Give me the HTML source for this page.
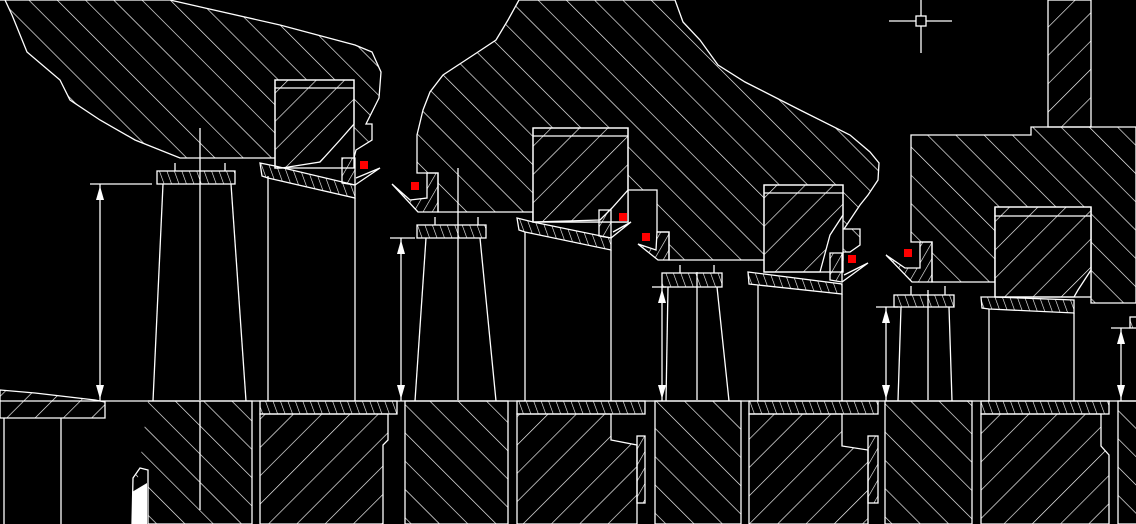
<!DOCTYPE html>
<html><head><meta charset="utf-8"><style>html,body{margin:0;padding:0;background:#000;}svg{display:block}</style></head><body>
<svg width="1136" height="524" viewBox="0 0 1136 524" xmlns="http://www.w3.org/2000/svg">
<defs>
<pattern id="bs" width="20" height="20" patternUnits="userSpaceOnUse" patternTransform="rotate(-45)"><line x1="0" y1="0" x2="0" y2="20" stroke="#fff" stroke-width="1.3"/></pattern>
<pattern id="fs" width="20" height="20" patternUnits="userSpaceOnUse" patternTransform="rotate(45)"><line x1="0" y1="0" x2="0" y2="20" stroke="#fff" stroke-width="1.3"/></pattern>
<pattern id="fine" width="7" height="7" patternUnits="userSpaceOnUse" patternTransform="rotate(-20)"><line x1="0" y1="0" x2="0" y2="7" stroke="#fff" stroke-width="1.2"/></pattern>
<pattern id="fine2" width="8" height="8" patternUnits="userSpaceOnUse" patternTransform="rotate(30)"><line x1="0" y1="0" x2="0" y2="8" stroke="#fff" stroke-width="1.2"/></pattern>
</defs>
<rect width="1136" height="524" fill="#000"/>
<g stroke="#fff" stroke-width="1.3" fill="none">
<!-- Blob 1 -->
<path d="M0,0 L170,0 L205,8 L280,25 L355,45 L372,52 L381,72 L379,98 L366,124 L372,124 L372,140 L356,150 L354,158 L275,158 L180,158 L135,140 L100,120 L70,100 L60,80 L27,52 L12,15 L5,0 Z" fill="url(#bs)"/>
<rect x="275" y="80" width="79" height="88" fill="#000"/>
<path d="M275,80 H354 V124 L340,140 L320,162 L282,168 H275 Z" fill="url(#fs)"/>
<line x1="275" y1="88" x2="354" y2="88"/>
<!-- Blob 2 -->
<path d="M519,0 L675,0 L683,22 L700,40 L718,65 L745,82 L800,110 L850,135 L870,152 L879,163 L878,180 L868,195 L860,205 L850,220 L844,229 L860,229 L860,245 L850,252 L843,252 L843,260 L669,260 L669,232 L657,232 L657,190 L628,190 L628,222 L533,222 L533,212 L438,212 L438,173 L417,173 L417,135 L423,110 L430,92 L443,75 L478,52 L496,40 L508,20 Z" fill="url(#bs)"/>
<rect x="533" y="128" width="95" height="94" fill="#000"/>
<path d="M533,128 H628 V190 L612,208 L600,220 L533,222 Z" fill="url(#fs)"/>
<line x1="533" y1="136" x2="628" y2="136"/>
<rect x="764" y="185" width="79" height="87" fill="#000"/>
<path d="M764,185 H843 V215 L830,235 L820,272 H764 Z" fill="url(#fs)"/>
<line x1="764" y1="193" x2="843" y2="193"/>
<!-- Blob 3 -->
<path d="M911,135 L1031,135 L1031,127 L1136,127 L1136,303 L1091,303 L1091,208 L995,208 L995,282 L932,282 L932,242 L911,242 Z" fill="url(#bs)"/>
<rect x="995" y="207" width="96" height="90" fill="#000"/>
<path d="M995,207 H1091 V270 L1078,290 L1074,297 H995 Z" fill="url(#fs)"/>
<line x1="995" y1="216" x2="1091" y2="216"/>
<rect x="1048" y="0" width="43" height="127" fill="url(#fs)"/>
<!-- crosshair -->
<line x1="889" y1="21" x2="952" y2="21"/><line x1="921" y1="0" x2="921" y2="53"/>
<rect x="916" y="16" width="10" height="10" fill="#000"/>
<!-- seal lips -->
<path d="M260,163 L275,166 L355,185 L355,198 L268,178 L262,176 Z" fill="url(#fine)"/>
<path d="M342,158 L355,158 L355,185 L342,183 Z" fill="url(#fine2)"/>
<path d="M355,185 L380,168 L356,178"/>
<path d="M517,218 L533,222 L611,238 L611,250 L525,232 L519,230 Z" fill="url(#fine)"/>
<path d="M599,210 L611,210 L611,238 L599,236 Z" fill="url(#fine2)"/>
<path d="M611,238 L631,222 L613,232"/>
<path d="M748,272 L764,274 L842,284 L842,294 L758,285 L749,284 Z" fill="url(#fine)"/>
<path d="M830,253 L842,253 L842,282 L830,280 Z" fill="url(#fine2)"/>
<path d="M842,282 L868,263 L844,275"/>
<path d="M981,297 L995,297 L1074,300 L1074,313 L989,309 L982,308 Z" fill="url(#fine)"/>
<!-- left lips -->
<path d="M427,173 L438,173 L438,212 L418,212 L392,184 L410,200 L427,198 Z" fill="url(#fine2)"/>
<path d="M657,232 L669,232 L669,260 L658,260 L638,244 L656,250 Z" fill="url(#fine2)"/>
<path d="M920,242 L932,242 L932,282 L912,282 L886,255 L905,268 L920,268 Z" fill="url(#fine2)"/>
<!-- thin top strips -->
<rect x="157" y="171" width="78" height="13" fill="url(#fine)"/>
<rect x="417" y="225" width="69" height="13" fill="url(#fine)"/>
<rect x="662" y="273" width="60" height="14" fill="url(#fine)"/>
<rect x="894" y="295" width="60" height="12" fill="url(#fine)"/>
<rect x="1130" y="317" width="8" height="11" fill="url(#fine)"/>
<line x1="175" y1="163" x2="175" y2="171"/><line x1="225" y1="163" x2="225" y2="171"/>
<line x1="435" y1="217" x2="435" y2="225"/><line x1="478" y1="217" x2="478" y2="225"/>
<line x1="680" y1="265" x2="680" y2="273"/><line x1="714" y1="265" x2="714" y2="273"/>
<line x1="911" y1="286" x2="911" y2="295"/><line x1="945" y1="286" x2="945" y2="295"/>
<!-- posts -->
<line x1="163" y1="184" x2="153" y2="401"/><line x1="231" y1="184" x2="246" y2="401"/>
<line x1="200" y1="128" x2="200" y2="400"/>
<line x1="426" y1="238" x2="415" y2="401"/><line x1="480" y1="238" x2="496" y2="401"/>
<line x1="458" y1="168" x2="458" y2="400"/>
<line x1="668" y1="287" x2="666" y2="401"/><line x1="717" y1="287" x2="729" y2="401"/>
<line x1="697" y1="272" x2="697" y2="400"/>
<line x1="901" y1="307" x2="898" y2="401"/><line x1="949" y1="307" x2="952" y2="401"/>
<line x1="928" y1="290" x2="928" y2="400"/>
<line x1="268" y1="176" x2="268" y2="401"/><line x1="355" y1="198" x2="355" y2="401"/>
<line x1="525" y1="232" x2="525" y2="401"/><line x1="611" y1="250" x2="611" y2="401"/>
<line x1="758" y1="285" x2="758" y2="401"/><line x1="842" y1="294" x2="842" y2="401"/>
<line x1="989" y1="309" x2="989" y2="401"/><line x1="1074" y1="313" x2="1074" y2="401"/>
<!-- dimensions -->
<line x1="90" y1="184" x2="152" y2="184"/><line x1="100" y1="184" x2="100" y2="401"/>
<line x1="390" y1="238" x2="415" y2="238"/><line x1="401" y1="238" x2="401" y2="401"/>
<line x1="652" y1="287" x2="666" y2="287"/><line x1="662" y1="287" x2="662" y2="401"/>
<line x1="876" y1="307" x2="898" y2="307"/><line x1="886" y1="307" x2="886" y2="401"/>
<line x1="1111" y1="328" x2="1130" y2="328"/><line x1="1121" y1="328" x2="1121" y2="401"/>
<!-- bottom -->
<line x1="0" y1="401" x2="1136" y2="401"/>
<path d="M0,390 L35,393 L95,400 L105,402 L105,418 L0,418 Z" fill="url(#fs)"/>
<line x1="4" y1="418" x2="4" y2="524"/><line x1="61" y1="418" x2="61" y2="524"/>
<path d="M148,401 H252 V524 H148 V470 L140,468 L133,478 L132,524" fill="url(#bs)"/>
<rect x="260" y="401" width="137" height="13" fill="url(#fine)"/>
<path d="M260,414 H388 V440 L383,445 V524 H260 Z" fill="url(#fs)"/>
<line x1="200" y1="401" x2="200" y2="510"/>
<rect x="405" y="401" width="103" height="123" fill="url(#bs)"/>
<rect x="517" y="401" width="128" height="13" fill="url(#fine)"/>
<path d="M517,414 H611 V440 L637,445 V524 H517 Z" fill="url(#fs)"/>
<rect x="637" y="436" width="8" height="67" fill="url(#fine2)"/>
<rect x="655" y="401" width="86" height="123" fill="url(#bs)"/>
<rect x="749" y="401" width="129" height="13" fill="url(#fine)"/>
<path d="M749,414 H842 V446 L868,450 V524 H749 Z" fill="url(#fs)"/>
<rect x="868" y="436" width="10" height="67" fill="url(#fine2)"/>
<rect x="885" y="401" width="87" height="123" fill="url(#bs)"/>
<rect x="981" y="401" width="128" height="13" fill="url(#fine)"/>
<path d="M981,414 H1101 V446 L1109,455 V524 H981 Z" fill="url(#fs)"/>
<rect x="1118" y="401" width="30" height="123" fill="url(#bs)"/>
</g>
<g fill="#fff">
<polygon points="100,186 96,200 104,200"/><polygon points="100,399 96,385 104,385"/>
<polygon points="401,240 397,254 405,254"/><polygon points="401,399 397,385 405,385"/>
<polygon points="662,289 658,303 666,303"/><polygon points="662,399 658,385 666,385"/>
<polygon points="886,309 882,323 890,323"/><polygon points="886,399 882,385 890,385"/>
<polygon points="1121,330 1117,344 1125,344"/><polygon points="1121,399 1117,385 1125,385"/>
<polygon points="132,492 147,483 147,524 132,524"/>
</g>
<g fill="#f00">
<rect x="360" y="161" width="8" height="8"/><rect x="411" y="182" width="8" height="8"/>
<rect x="619" y="213" width="8" height="8"/><rect x="642" y="233" width="8" height="8"/>
<rect x="848" y="255" width="8" height="8"/><rect x="904" y="249" width="8" height="8"/>
</g>
</svg>
</body></html>
